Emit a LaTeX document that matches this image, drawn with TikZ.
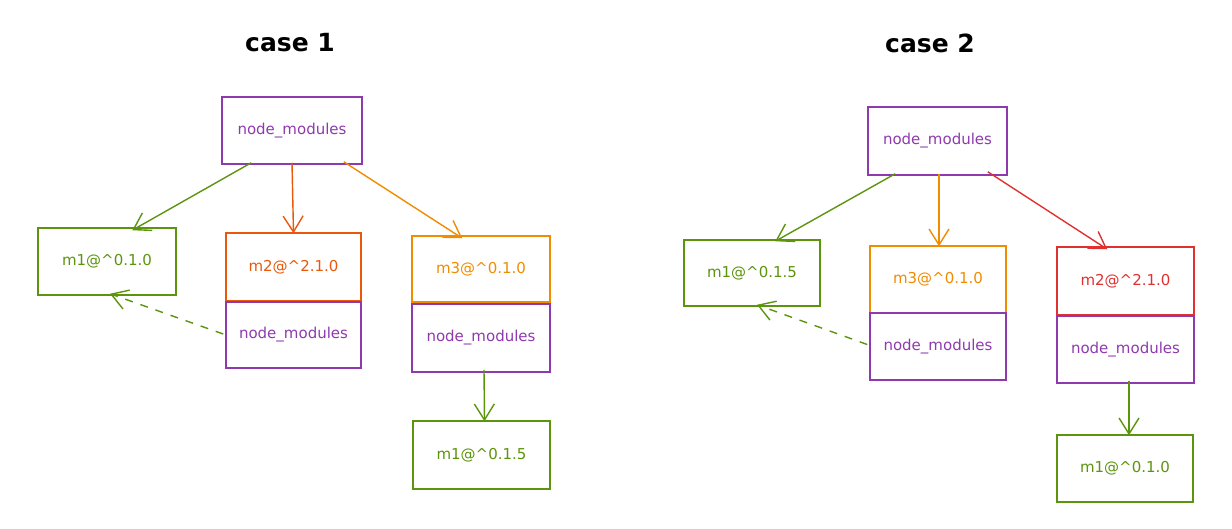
\documentclass[tikz,border=0pt]{standalone}
\usepackage{fontspec}
\setmainfont{DejaVu Sans}
\usetikzlibrary{arrows.meta}
\definecolor{cpurple}{HTML}{8E3AAE}
\definecolor{cgreen}{HTML}{5C940D}
\definecolor{credor}{HTML}{E8590C}
\definecolor{corange}{HTML}{F08C00}
\definecolor{cred}{HTML}{E03131}
\tikzset{
  box/.style={draw, line width=1.5pt, rectangle, inner sep=0pt, font=\fontsize{15}{17}\selectfont},
  nm/.style={box, draw=cpurple, text=cpurple},
  gbox/.style={box, draw=cgreen, text=cgreen},
  conn/.style={line width=1.4pt, -{Straight Barb[length=16pt,width=20pt,line width=1.4pt]}},
  dconn/.style={conn, dash pattern=on 8pt off 8pt},
  title/.style={font=\fontsize{25}{29}\selectfont\bfseries}
}
\begin{document}
\begin{tikzpicture}[x=1pt,y=-1pt]
\useasboundingbox (0,0) rectangle (1232,528);
% ---------- case 1 ----------
\node[title] (title1) at (290,43) {case 1};
\node[nm, minimum width=140pt, minimum height=67pt] (t1) at (292,130.5) {node\_modules};
\node[gbox, minimum width=138pt, minimum height=67pt] (a1) at (107,261.5) {m1@\textasciicircum0.1.0};
\node[box, draw=credor, text=credor, minimum width=135pt, minimum height=68pt] (b1) at (293.5,267) {m2@\textasciicircum2.1.0};
\node[nm, minimum width=135pt, minimum height=66pt] (bn1) at (293.5,335) {node\_modules};
\node[box, draw=corange, text=corange, minimum width=138pt, minimum height=66pt] (c1) at (481,269) {m3@\textasciicircum0.1.0};
\node[nm, minimum width=138pt, minimum height=68pt] (cn1) at (481,338) {node\_modules};
\node[gbox, minimum width=137pt, minimum height=68pt] (d1) at (481.5,455) {m1@\textasciicircum0.1.5};
\draw[conn, cgreen] ([xshift=30pt,yshift=2pt]t1.south west) -- ([xshift=95pt,yshift=-3pt]a1.north west);
\draw[conn, credor] ([yshift=2pt]t1.south) -- ([yshift=-1pt]b1.north);
\draw[conn, corange] ([xshift=-19pt,yshift=3pt]t1.south east) -- ([xshift=51pt,yshift=-3pt]c1.north west);
\draw[conn, cgreen] ([xshift=3pt,yshift=3pt]cn1.south) -- ([xshift=3pt,yshift=-1pt]d1.north);
\draw[dconn, cgreen] ([xshift=-2pt,yshift=1pt]bn1.west) -- ([xshift=3pt,yshift=2pt]a1.south);
% ---------- case 2 ----------
\node[title] (title2) at (930,43) {case 2};
\node[nm, minimum width=139pt, minimum height=68pt] (t2) at (937.5,141) {node\_modules};
\node[gbox, minimum width=136pt, minimum height=66pt] (a2) at (752,273) {m1@\textasciicircum0.1.5};
\node[box, draw=corange, text=corange, minimum width=136pt, minimum height=67pt] (b2) at (938,279.5) {m3@\textasciicircum0.1.0};
\node[nm, minimum width=136pt, minimum height=67pt] (bn2) at (938,346.5) {node\_modules};
\node[box, draw=cred, text=cred, minimum width=137pt, minimum height=68pt] (c2) at (1125.5,281) {m2@\textasciicircum2.1.0};
\node[nm, minimum width=137pt, minimum height=67pt] (cn2) at (1125.5,349.5) {node\_modules};
\node[gbox, minimum width=136pt, minimum height=67pt] (d2) at (1125,468.5) {m1@\textasciicircum0.1.0};
\draw[conn, cgreen] ([xshift=28pt,yshift=2pt]t2.south west) -- ([xshift=92pt,yshift=-2pt]a2.north west);
\draw[conn, corange] ([xshift=1.5pt,yshift=2pt]t2.south) -- ([xshift=1pt,yshift=-1pt]b2.north);
\draw[conn, cred] ([xshift=-20pt,yshift=4pt]t2.south east) -- ([xshift=51pt,yshift=-3pt]c2.north west);
\draw[conn, cgreen] ([xshift=3.5pt,yshift=3pt]cn2.south) -- ([xshift=4pt,yshift=-1pt]d2.north);
\draw[dconn, cgreen] ([xshift=-2pt,yshift=2pt]bn2.west) -- ([xshift=5pt,yshift=2pt]a2.south);
\end{tikzpicture}
\end{document}
